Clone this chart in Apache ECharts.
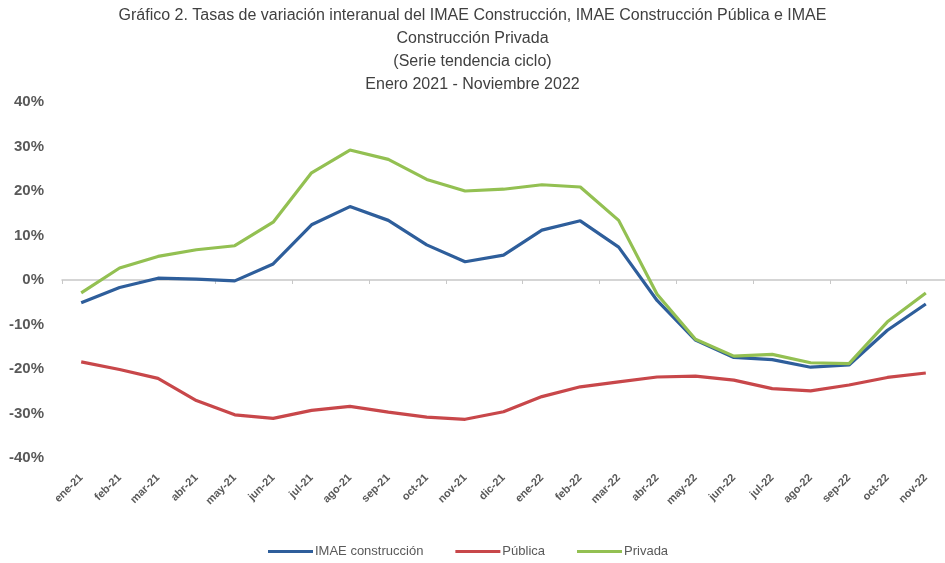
<!DOCTYPE html>
<html>
<head>
<meta charset="utf-8">
<script src="https://cdn.jsdelivr.net/npm/echarts@6/dist/echarts.min.js"></script>
<style>html,body{margin:0;padding:0;background:#fff}#c{width:945px;height:563px}</style>
</head>
<body>
<div id="c"></div>
<script>
const categories = ['ene-21','feb-21','mar-21','abr-21','may-21','jun-21','jul-21','ago-21','sep-21','oct-21','nov-21','dic-21','ene-22','feb-22','mar-22','abr-22','may-22','jun-22','jul-22','ago-22','sep-22','oct-22','nov-22'];
const imaeConstruccion = [-5.1,-1.7,0.4,0.2,-0.2,3.6,12.4,16.5,13.4,7.9,4.1,5.6,11.2,13.3,7.4,-4.6,-13.5,-17.4,-17.9,-19.6,-19.1,-11.3,-5.4];
const publica = [-18.4,-20.1,-22.1,-27.1,-30.3,-31.1,-29.3,-28.4,-29.7,-30.8,-31.3,-29.6,-26.2,-24.0,-22.9,-21.8,-21.6,-22.5,-24.4,-24.9,-23.6,-21.9,-20.9];
const privada = [-2.9,2.7,5.3,6.8,7.7,13.0,24.1,29.2,27.1,22.6,20.0,20.4,21.4,20.9,13.4,-3.2,-13.3,-17.1,-16.7,-18.6,-18.8,-9.4,-2.9];
const yTicks = [-40,-30,-20,-10,0,10,20,30,40];
const seriesNames = ['IMAE construcción','Pública','Privada'];
const titleLines = ['Gráfico 2. Tasas de variación interanual del IMAE Construcción, IMAE Construcción Pública e IMAE','Construcción Privada','(Serie tendencia ciclo)','Enero 2021 - Noviembre 2022'];

const chart = echarts.init(document.getElementById('c'), null, {renderer:'canvas'});
const colors = ['#2E5E9B','#C8474A','#93C052'];
const lbl = {fontFamily:'Liberation Sans, Arial, sans-serif', color:'#595959', fontWeight:'bold'};
chart.setOption({
  animation:false,
  backgroundColor:'#fff',
  title:titleLines.map((t,i)=>({
    text:t, left:'center', top:8+i*23, padding:0,
    textStyle:{fontFamily:'Liberation Sans, Arial, sans-serif', fontSize:16, fontWeight:'normal', color:'#404040'}
  })),
  legend:{
    left:263, top:540,
    itemWidth:45, itemHeight:3, itemGap:32,
    icon:'rect',
    data:seriesNames,
    textStyle:{fontFamily:'Liberation Sans, Arial, sans-serif', fontSize:13, color:'#595959', padding:[0,0,0,-3]}
  },
  grid:{left:62, right:-14, top:102, bottom:105, containLabel:false},
  xAxis:[{
    type:'category', data:categories, boundaryGap:true,
    axisLine:{show:true, onZero:true, lineStyle:{color:'#C8C8C8', width:1.5}},
    axisTick:{show:true, length:4, lineStyle:{color:'#C8C8C8'}},
    axisLabel:{show:false}, splitLine:{show:false}
  },{
    type:'category', data:categories, boundaryGap:true, position:'bottom',
    axisLine:{show:false, onZero:false}, axisTick:{show:false},
    axisLabel:Object.assign({rotate:45, fontSize:11, margin:18, interval:0}, lbl),
    splitLine:{show:false}
  }],
  yAxis:{
    type:'value', min:yTicks[0], max:yTicks[yTicks.length-1], interval:10,
    axisLine:{show:false}, axisTick:{show:false}, splitLine:{show:false},
    axisLabel:Object.assign({fontSize:15, margin:18, formatter:v=>v+'%'}, lbl)
  },
  series:[
    {name:seriesNames[0], type:'line', data:imaeConstruccion, xAxisIndex:0, symbol:'none', lineStyle:{width:3.2, color:colors[0]}, itemStyle:{color:colors[0]}, z:3},
    {name:seriesNames[1], type:'line', data:publica, xAxisIndex:0, symbol:'none', lineStyle:{width:3.2, color:colors[1]}, itemStyle:{color:colors[1]}, z:2},
    {name:seriesNames[2], type:'line', data:privada, xAxisIndex:0, symbol:'none', lineStyle:{width:3.2, color:colors[2]}, itemStyle:{color:colors[2]}, z:4}
  ]
});
</script>
</body>
</html>
